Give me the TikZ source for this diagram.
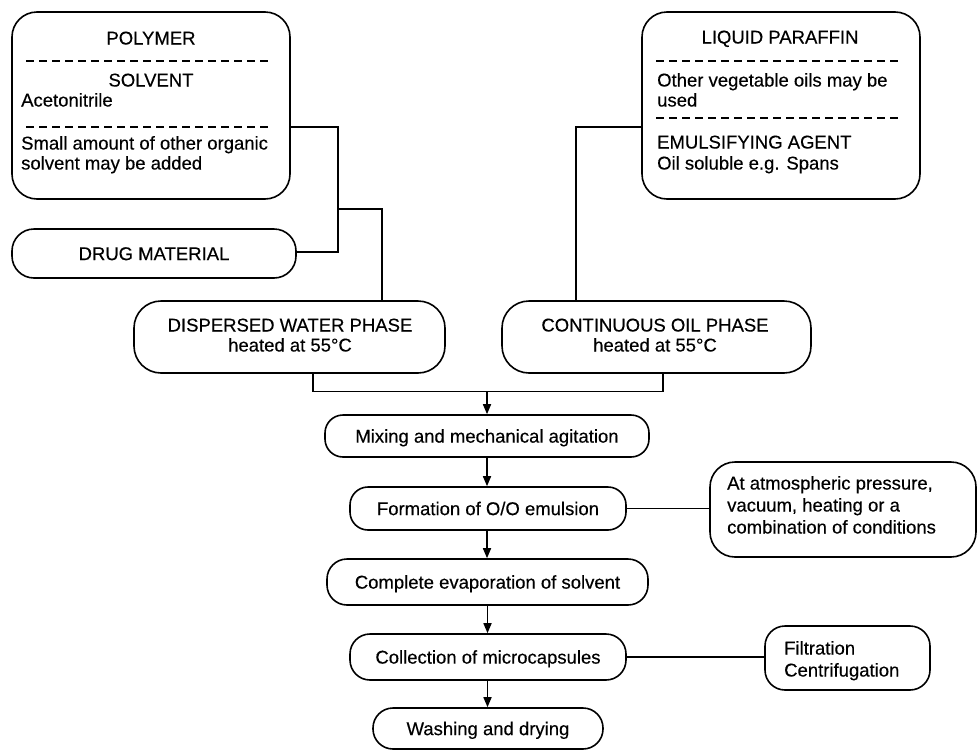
\documentclass[tikz,border=0pt]{standalone}
\usepackage{fontspec}
\setmainfont[FakeBold=0.35]{Liberation Sans}
\usetikzlibrary{arrows.meta}
\tikzset{
  box/.style={draw, rounded corners=#1, line width=1.6pt, inner sep=0pt,
    font=\fontsize{18.5}{21}\selectfont, text height=13.2pt, text depth=0pt},
  txt/.style={inner sep=0pt, font=\fontsize{18.5}{21}\selectfont},
  conn/.style={line width=1.6pt},
  arr/.style={line width=1.6pt, -{Triangle[length=10pt,width=8pt]}},
  sep/.style={line width=1.3pt, dash pattern=on 8pt off 5pt},
}
\begin{document}
\begin{tikzpicture}[x=1pt,y=-1pt]
\useasboundingbox (0,0) rectangle (977,750);
% ---- top left: polymer box
\node[box=25pt, minimum width=278pt, minimum height=187pt] (poly) at (151,105.5) {};
\node[txt, anchor=base] (polyA) at (151,44.5) {POLYMER};
\node[txt, anchor=base] (polyB) at (151,86.5) {SOLVENT};
\node[txt, anchor=base west] (polyC) at (21,106.5) {Acetonitrile};
\node[txt, anchor=base west] (polyD) at (21,149.5) {Small amount of other organic};
\node[txt, anchor=base west] (polyE) at (21,169.5) {solvent may be added};
\draw[sep] (26,61) -- (272,61);
\draw[sep] (26,127) -- (272,127);
% drug
\node[box=22pt, minimum width=284pt, minimum height=49pt] (drug) at (154,253.5) {DRUG MATERIAL};
% ---- top right: paraffin box
\node[box=25pt, minimum width=278pt, minimum height=187pt] (para) at (781,105.5) {};
\node[txt, anchor=base] (paraA) at (780,43.5) {LIQUID PARAFFIN};
\node[txt, anchor=base west] (paraB) at (657,86.5) {Other vegetable oils may be};
\node[txt, anchor=base west] (paraC) at (657,106.5) {used};
\node[txt, anchor=base west] (paraD) at (657,148.5) {EMULSIFYING AGENT};
\node[txt, anchor=base west] (paraE) at (657,169.5) {Oil soluble e.g. Spans};
\draw[sep] (656,61) -- (902,61);
\draw[sep] (656,118) -- (902,118);
% ---- phases
\node[box=27pt, minimum width=311pt, minimum height=72pt] (disp) at (289.5,337) {};
\node[txt, anchor=base] (dispA) at (290,331.5) {DISPERSED WATER PHASE};
\node[txt, anchor=base] (dispB) at (290,351.5) {heated at 55°C};
\node[box=27pt, minimum width=309pt, minimum height=72pt] (cont) at (656.5,337) {};
\node[txt, anchor=base] (contA) at (655,331.5) {CONTINUOUS OIL PHASE};
\node[txt, anchor=base] (contB) at (655,351.5) {heated at 55°C};
% ---- main chain
\node[box=18pt, minimum width=324pt, minimum height=42pt] (mix) at (487,436) {Mixing and mechanical agitation};
\node[box=18pt, minimum width=276pt, minimum height=43pt] (form) at (488,508.5) {Formation of O/O emulsion};
\node[box=20pt, minimum width=321pt, minimum height=46pt] (evap) at (487.5,582) {Complete evaporation of solvent};
\node[box=20pt, minimum width=276pt, minimum height=46pt] (coll) at (488,657) {Collection of microcapsules};
\node[box=20pt, minimum width=230pt, minimum height=41pt] (wash) at (488,728.5) {Washing and drying};
% ---- side boxes
\node[box=25pt, minimum width=266pt, minimum height=95pt] (cond) at (843,509.5) {};
\node[txt, anchor=base west] (condA) at (727,489.5) {At atmospheric pressure,};
\node[txt, anchor=base west] (condB) at (727,511.5) {vacuum, heating or a};
\node[txt, anchor=base west] (condC) at (727,533.5) {combination of conditions};
\node[box=20pt, minimum width=165pt, minimum height=64pt] (filt) at (847.5,658) {};
\node[txt, anchor=base west] (filtA) at (784,654.5) {Filtration};
\node[txt, anchor=base west] (filtB) at (784,676.5) {Centrifugation};
% ---- coordinates for junctions
\coordinate (j1) at (338,127);
\coordinate (j2) at (338,252);
\coordinate (j3) at (338,209);
\coordinate (j4) at (382,209);
\coordinate (j5) at (576,127);
\coordinate (b1) at (313,391.5);
\coordinate (b2) at (663,391.5);
\coordinate (bm) at (487,391.5);
% ---- connectors
\draw[conn] (poly.east |- j1) -- (j1) -- (j2) -- (drug.east |- j2);
\draw[conn] (j3) -- (j4) -- (j4 |- disp.north);
\draw[conn] (para.west |- j5) -- (j5) -- (j5 |- cont.north);
\draw[conn] (b1 |- disp.south) -- (b1) -- (b2) -- (b2 |- cont.south);
\draw[arr] (bm) -- (mix.north);
\draw[arr] (mix.south) -- (mix.south |- form.north);
\draw[arr] (mix.south |- form.south) -- (mix.south |- evap.north);
\draw[arr] (evap.south) -- (evap.south |- coll.north);
\draw[arr] (evap.south |- coll.south) -- (evap.south |- wash.north);
\draw[conn] (form.east) -- (form.east -| cond.west);
\draw[conn] (coll.east) -- (coll.east -| filt.west);
\end{tikzpicture}
\end{document}
